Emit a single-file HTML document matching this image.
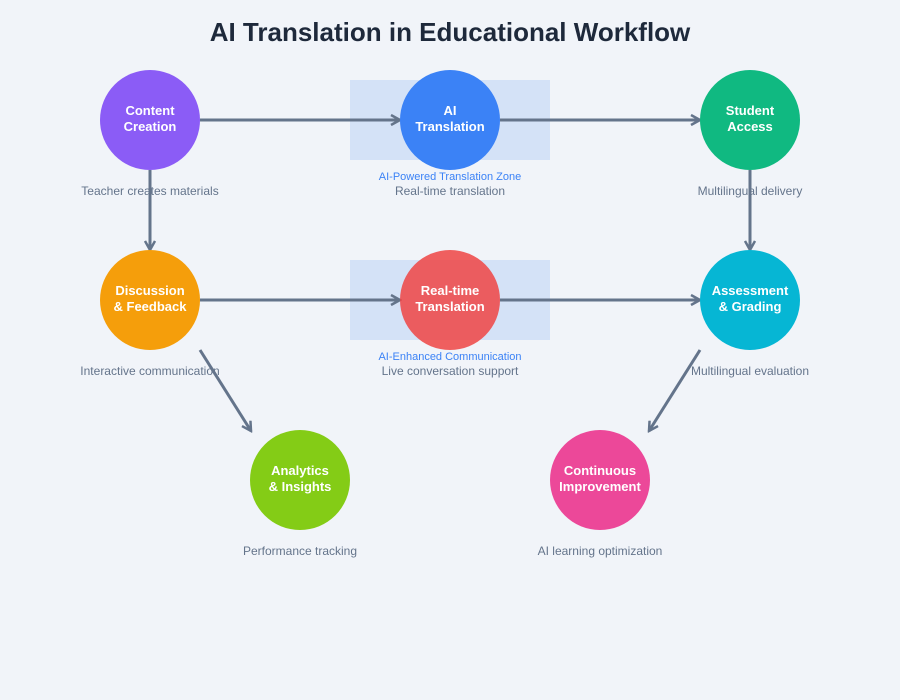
<!DOCTYPE html>
<html><head><meta charset="utf-8"><style>
html,body{margin:0;padding:0;background:#f1f4f9;}
svg{display:block;font-family:"Liberation Sans",Arial,sans-serif;}
</style></head><body>
<svg width="900" height="700" viewBox="0 0 900 700" xmlns="http://www.w3.org/2000/svg">
<defs>
<marker id="a" markerWidth="12" markerHeight="12" refX="10" refY="6" orient="auto" markerUnits="userSpaceOnUse">
<path d="M1,1 L10,6 L1,11" fill="none" stroke="#64748b" stroke-width="2.5"/>
</marker>
</defs>
<rect width="900" height="700" fill="#f1f4f9"/>
<text x="450" y="41" text-anchor="middle" font-size="26" font-weight="bold" fill="#1e293b">AI Translation in Educational Workflow</text>
<rect x="350" y="80" width="200" height="80" fill="#d4e2f7"/>
<rect x="350" y="260" width="200" height="80" fill="#d4e2f7"/>
<g stroke="#64748b" stroke-width="3" fill="none" marker-end="url(#a)">
<line x1="200" y1="120" x2="400" y2="120"/>
<line x1="500" y1="120" x2="700" y2="120"/>
<line x1="150" y1="170" x2="150" y2="250"/>
<line x1="750" y1="170" x2="750" y2="250"/>
<line x1="200" y1="300" x2="400" y2="300"/>
<line x1="500" y1="300" x2="700" y2="300"/>
<line x1="200" y1="350" x2="251" y2="431"/>
<line x1="700" y1="350" x2="649" y2="431"/>
</g>
<circle cx="150" cy="120" r="50" fill="#8b5cf6"/>
<circle cx="450" cy="120" r="50" fill="#3b82f6"/>
<circle cx="750" cy="120" r="50" fill="#10b981"/>
<circle cx="150" cy="300" r="50" fill="#f59e0b"/>
<circle cx="450" cy="300" r="50" fill="#ef4444" fill-opacity="0.85"/>
<circle cx="750" cy="300" r="50" fill="#06b6d4"/>
<circle cx="300" cy="480" r="50" fill="#84cc16"/>
<circle cx="600" cy="480" r="50" fill="#ec4899"/>
<g fill="#fff" font-size="13" font-weight="bold" text-anchor="middle">
<text x="150" y="115">Content</text><text x="150" y="131">Creation</text>
<text x="450" y="115">AI</text><text x="450" y="131">Translation</text>
<text x="750" y="115">Student</text><text x="750" y="131">Access</text>
<text x="150" y="295">Discussion</text><text x="150" y="311">&amp; Feedback</text>
<text x="450" y="295">Real-time</text><text x="450" y="311">Translation</text>
<text x="750" y="295">Assessment</text><text x="750" y="311">&amp; Grading</text>
<text x="300" y="475">Analytics</text><text x="300" y="491">&amp; Insights</text>
<text x="600" y="475">Continuous</text><text x="600" y="491">Improvement</text>
</g>
<g fill="#64748b" font-size="12" text-anchor="middle">
<text x="150" y="195">Teacher creates materials</text>
<text x="450" y="195">Real-time translation</text>
<text x="750" y="195">Multilingual delivery</text>
<text x="150" y="375">Interactive communication</text>
<text x="450" y="375">Live conversation support</text>
<text x="750" y="375">Multilingual evaluation</text>
<text x="300" y="555">Performance tracking</text>
<text x="600" y="555">AI learning optimization</text>
</g>
<g fill="#3b82f6" font-size="11" text-anchor="middle">
<text x="450" y="180">AI-Powered Translation Zone</text>
<text x="450" y="360">AI-Enhanced Communication</text>
</g>
</svg>
</body></html>
